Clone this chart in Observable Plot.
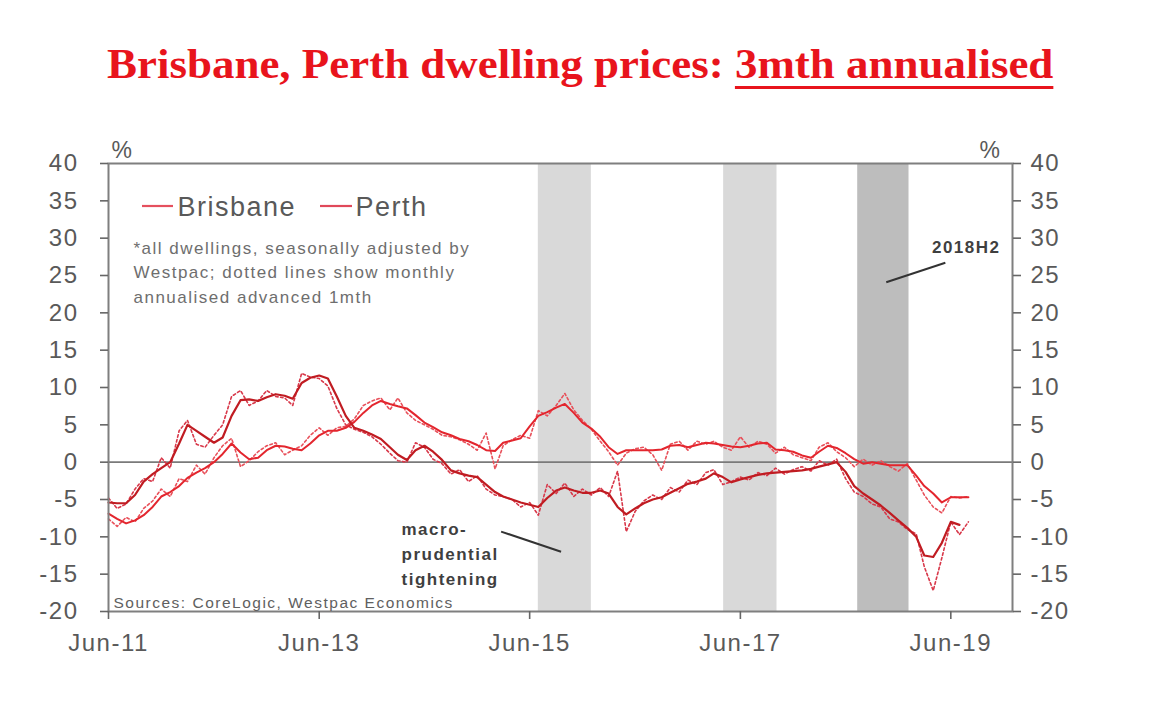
<!DOCTYPE html>
<html><head><meta charset="utf-8">
<script src="https://cdn.jsdelivr.net/npm/d3@7"></script>
<script src="https://cdn.jsdelivr.net/npm/@observablehq/plot@0.6"></script>
<style>
body{margin:0;background:#fff;width:1160px;height:704px;overflow:hidden;position:relative;}
#title{position:absolute;left:0;top:43px;width:1160px;text-align:center;font-family:"Liberation Serif","Times New Roman",serif;font-weight:bold;font-size:42px;line-height:1;color:#e8141c;white-space:nowrap;}
#title span{display:inline-block;transform:scaleX(1.07);transform-origin:center;}
#title u{text-decoration-thickness:3px;text-underline-offset:8px;}
#chart{position:absolute;left:0;top:100px;}
</style></head><body>
<div id="title"><span>Brisbane, Perth dwelling prices: <u>3mth annualised</u></span></div>
<div id="chart"></div>
<script>
// ---- data ----
const firstMonth = "2011-06-01";
const lastMonth = "2019-08-01";

// 3mth annualised (solid)
const brisbane3m = [
  -6.9, -7.6, -8.2, -7.8, -7.1, -6.0, -4.6, -4.0, -3.2, -2.1, -1.4, -0.8,
   0.0,  1.1,  2.5,  1.3,  0.4,  0.6,  1.6,  2.2,  2.1,  1.8,  1.6,  2.5,
   3.6,  4.2,  4.2,  4.6,  5.4,  6.6,  7.6,  8.2,  7.8,  7.5,  7.2,  6.3,
   5.3,  4.7,  4.0,  3.6,  3.1,  2.8,  2.3,  1.6,  1.5,  2.6,  2.9,  3.2,
   4.8,  6.2,  6.7,  7.3,  7.8,  6.6,  5.3,  4.5,  3.4,  2.0,  1.1,  1.6,
   1.6,  1.6,  1.6,  1.7,  2.2,  2.3,  2.0,  2.3,  2.6,  2.5,  2.3,  2.1,
   2.0,  2.2,  2.5,  2.6,  1.7,  1.6,  1.4,  0.9,  0.6,  1.4,  2.2,  1.9,
   1.2,  0.4, -0.2,  0.0, -0.2, -0.4, -0.4, -0.4, -1.8, -3.2, -4.2, -5.4,
  -4.7, -4.7, -4.7
];
const perth3m = [
  -5.4, -5.5, -5.5, -4.4, -2.6, -1.6, -0.8,  0.0,  2.5,  5.0,  4.2,  3.4,
   2.6,  3.3,  6.2,  8.3,  8.4,  8.2,  8.7,  9.1,  8.9,  8.5, 10.6, 11.3,
  11.6, 11.2,  8.8,  6.2,  4.6,  4.2,  3.7,  3.1,  2.0,  1.0,  0.3,  1.6,
   2.2,  1.4,  0.3, -1.1, -1.5, -1.8, -2.0, -3.0, -4.0, -4.6, -5.0, -5.4,
  -5.7, -6.0, -4.8, -3.8, -3.4, -3.8, -4.1, -4.1, -3.8, -4.2, -6.0, -7.0,
  -6.2, -5.5, -5.0, -4.7, -4.1, -3.5, -2.9, -2.6, -2.2, -1.5, -2.0, -2.7,
  -2.3, -2.0, -1.7, -1.5, -1.4, -1.3, -1.2, -1.1, -0.9, -0.6, -0.3,  0.0,
  -1.3, -3.2, -4.2, -5.0, -5.8, -6.8, -7.8, -8.8,-10.0,-12.5,-12.7,-10.8,
  -8.0, -8.4, null
];
// monthly annualised, advanced 1mth (dotted)
const brisbaneMonthly = [
  -7.6, -8.6, -7.4, -8.0, -6.2, -5.2, -3.6, -4.6, -2.2, -2.6, -0.4, -1.6,
   0.6,  2.2,  3.2, -0.6,  0.2,  1.4,  2.2,  2.6,  1.0,  1.6,  2.2,  3.6,
   4.6,  3.6,  4.6,  4.8,  5.8,  7.6,  8.2,  8.6,  7.0,  8.6,  6.6,  5.6,
   5.0,  4.4,  3.6,  3.4,  3.0,  2.4,  1.6,  3.9, -0.9,  2.2,  3.0,  3.6,
   3.2,  6.9,  6.2,  7.6,  9.2,  7.0,  5.6,  4.4,  2.8,  1.4, -0.4,  1.2,
   1.8,  2.0,  1.0, -1.1,  2.4,  2.8,  1.6,  2.8,  2.4,  2.8,  2.0,  1.6,
   3.4,  2.0,  2.8,  2.4,  1.2,  2.0,  1.0,  0.6,  0.2,  2.0,  2.6,  1.4,
   0.6, -0.6,  0.4, -0.4,  0.2, -0.6, -1.2, -0.2, -2.4, -4.4, -6.0, -6.8,
  -4.6, -4.8, -4.6
];
const perthMonthly = [
  -4.8, -6.2, -5.6, -3.6, -2.2, -2.6,  0.6, -0.8,  4.2,  5.6,  2.4,  2.0,
   3.6,  5.0,  8.8,  9.6,  7.6,  8.2,  9.6,  8.8,  8.6,  7.6, 11.9, 11.4,
  11.2, 10.2,  7.2,  5.0,  4.4,  4.0,  3.4,  2.4,  1.2,  0.2,  0.0,  2.6,
   2.0,  0.4, -0.2, -1.6, -1.0, -2.6, -1.8, -3.6, -4.4, -4.6, -5.0, -6.0,
  -5.4, -7.1, -3.0, -4.2, -2.8, -4.6, -3.6, -4.4, -3.4, -4.6, -1.2, -9.3,
  -6.6, -5.2, -4.4, -5.0, -3.4, -4.0, -2.4, -3.0, -1.4, -1.0, -3.0, -2.6,
  -2.0, -2.4, -1.4, -1.8, -0.8, -1.6, -1.0, -0.6, -1.2,  0.2, -0.4,  0.4,
  -2.2, -4.0, -4.6, -5.6, -6.0, -7.6, -8.0, -9.0, -9.6,-14.0,-17.2,-12.8,
  -8.0, -9.7, -8.0
];

// shaded periods
const lightBandStarts = ["2015-07-01", "2017-04-04"];
const lightBandEnds   = ["2016-01-01", "2017-10-06"];
const darkBandStarts  = ["2018-07-13"];
const darkBandEnds    = ["2019-01-07"];

// axes
const yTicks = [-20, -15, -10, -5, 0, 5, 10, 15, 20, 25, 30, 35, 40];
const xTickDates  = ["2011-06-01", "2013-06-01", "2015-06-01", "2017-06-01", "2019-06-01"];
const xTickLabels = ["Jun-11", "Jun-13", "Jun-15", "Jun-17", "Jun-19"];
const legendLabels = ["Brisbane", "Perth"];

// ---- build ----
const months = d3.utcMonth.range(new Date(firstMonth), d3.utcMonth.offset(new Date(lastMonth), 1));
const rowsOf = (arr) => arr.map((v, i) => ({date: months[i], value: v}));
const lightBands = lightBandStarts.map((s, i) => ({x1: new Date(s), x2: new Date(lightBandEnds[i])}));
const darkBands = darkBandStarts.map((s, i) => ({x1: new Date(s), x2: new Date(darkBandEnds[i])}));
const xTicks = xTickDates.map(d => new Date(d));
const yFmt = d => String(d);

const brisCol = "#e3262e", perthCol = "#c01c22";
const ML = 108, MT = 63;

const plot = Plot.plot({
  width: 1160, height: 604,
  marginLeft: ML, marginRight: 148, marginTop: MT, marginBottom: 93,
  x: {type: "utc", domain: [new Date("2011-06-01"), new Date("2020-01-01")]},
  y: {domain: [-20, 40]},
  style: {fontFamily: "'Liberation Sans', Arial, sans-serif", color: "#595959", background: "#fff", overflow: "visible"},
  marks: [
    Plot.rect(lightBands, {x1: "x1", x2: "x2", fill: "#d9d9d9"}),
    Plot.rect(darkBands, {x1: "x1", x2: "x2", fill: "#bdbdbd"}),
    Plot.ruleY([0], {stroke: "#7a7a7a", strokeWidth: 1.6}),
    Plot.line(rowsOf(brisbaneMonthly), {x: "date", y: "value", stroke: "#e8505a", strokeWidth: 1.6, strokeDasharray: "2.5,2.5"}),
    Plot.line(rowsOf(perthMonthly), {x: "date", y: "value", stroke: "#d8384a", strokeWidth: 1.6, strokeDasharray: "2.5,2.5"}),
    Plot.line(rowsOf(brisbane3m), {x: "date", y: "value", stroke: brisCol, strokeWidth: 2}),
    Plot.line(rowsOf(perth3m), {x: "date", y: "value", stroke: perthCol, strokeWidth: 2.2}),
    Plot.frame({stroke: "#7f7f7f", strokeWidth: 2}),
    Plot.axisY({anchor: "left", ticks: yTicks, tickFormat: yFmt, tickSize: 8, tickPadding: 22, fontSize: 24, label: null, stroke: "#666", strokeWidth: 1.6}),
    Plot.axisY({anchor: "right", ticks: yTicks, tickFormat: yFmt, tickSize: 8, tickPadding: 10, fontSize: 24, label: null, stroke: "#666", strokeWidth: 1.6}),
    Plot.axisX({ticks: xTicks, tickFormat: (d) => xTickLabels[xTicks.findIndex(t => +t === +d)], tickSize: 8, tickPadding: 14, fontSize: 24, label: null, stroke: "#666", strokeWidth: 1.6}),
    // % unit labels
    Plot.text(["%"], {frameAnchor: "top-left", dx: 14, dy: -6, lineAnchor: "bottom", fontSize: 23, fill: "#595959", textAnchor: "middle"}),
    Plot.text(["%"], {frameAnchor: "top-right", dx: -22, dy: -6, lineAnchor: "bottom", fontSize: 23, fill: "#595959", textAnchor: "middle"}),
    // legend
    Plot.text([legendLabels[0]], {frameAnchor: "top-left", dx: 69, dy: 52, lineAnchor: "bottom", textAnchor: "start", fontSize: 27, fill: "#595959"}),
    Plot.text([legendLabels[1]], {frameAnchor: "top-left", dx: 247, dy: 52, lineAnchor: "bottom", textAnchor: "start", fontSize: 27, fill: "#595959"}),
    // note
    Plot.text(["*all dwellings, seasonally adjusted by\nWestpac; dotted lines show monthly\nannualised advanced 1mth"], {frameAnchor: "top-left", dx: 25, dy: 139, lineAnchor: "bottom", textAnchor: "start", fontSize: 17, lineHeight: 1.44, fill: "#6e6e6e"}),
    // sources
    Plot.text(["Sources: CoreLogic, Westpac Economics"], {frameAnchor: "bottom-left", dx: 5, dy: -4, lineAnchor: "bottom", textAnchor: "start", fontSize: 15.5, fill: "#606060"}),
    // annotations
    Plot.text(["macro-\nprudential\ntightening"], {frameAnchor: "top-left", dx: 293, dy: 421, lineAnchor: "bottom", textAnchor: "start", fontSize: 17, fontWeight: "bold", lineHeight: 1.47, fill: "#3f3f3f"}),
    Plot.text(["2018H2"], {frameAnchor: "top-right", dx: -12, dy: 89, lineAnchor: "bottom", textAnchor: "end", fontSize: 17, fontWeight: "bold", fill: "#3f3f3f"}),
    Plot.link([{a: new Date("2015-02-22"), b: -9.3, c: new Date("2015-09-18"), d: -12.0}], {x1: "a", y1: "b", x2: "c", y2: "d", stroke: "#333", strokeWidth: 2}),
    Plot.link([{a: new Date("2018-10-20"), b: 24.1, c: new Date("2019-05-13"), d: 26.7}], {x1: "a", y1: "b", x2: "c", y2: "d", stroke: "#333", strokeWidth: 2})
  ]
});

// legend swatches
const svgNS = "http://www.w3.org/2000/svg";
const g = document.createElementNS(svgNS, "g");
[[ML + 34, ML + 65, "#e5505e"], [ML + 212, ML + 244, "#e0485a"]].forEach(([a, b, c]) => {
  const l = document.createElementNS(svgNS, "line");
  l.setAttribute("x1", a); l.setAttribute("x2", b);
  l.setAttribute("y1", MT + 43); l.setAttribute("y2", MT + 43);
  l.setAttribute("stroke", c); l.setAttribute("stroke-width", 2.2);
  g.appendChild(l);
});
plot.appendChild(g);

// letter spacing to match the wide source typography
d3.select(plot).selectAll("text").style("letter-spacing", "1.5px");

document.getElementById("chart").appendChild(plot);
</script>
</body></html>
